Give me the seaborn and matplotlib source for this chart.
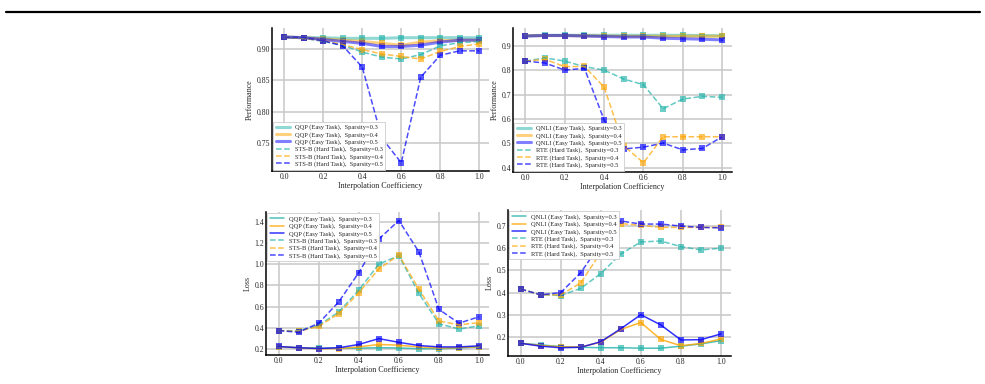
import matplotlib
matplotlib.use("Agg")
import matplotlib.pyplot as plt
import numpy as np
import pandas as pd
import seaborn as sns
from matplotlib.lines import Line2D

sns.set_theme(style="whitegrid")
plt.rcParams['font.family'] = ['Liberation Serif', 'DejaVu Serif']

coef = [0.0, 0.1, 0.2, 0.3, 0.4, 0.5, 0.6, 0.7, 0.8, 0.9, 1.0]
sparsity = ["0.3", "0.4", "0.5"]

# performance, QQP / STS-B
qqp_perf = [
    [0.919, 0.918, 0.918, 0.917, 0.917, 0.917, 0.918, 0.918, 0.918, 0.918, 0.918],
    [0.919, 0.918, 0.916, 0.914, 0.912, 0.909, 0.906, 0.911, 0.913, 0.914, 0.914],
    [0.919, 0.918, 0.915, 0.912, 0.909, 0.904, 0.904, 0.906, 0.911, 0.914, 0.914],
]
stsb_perf = [
    [0.919, 0.917, 0.912, 0.906, 0.895, 0.887, 0.884, 0.891, 0.905, 0.910, 0.912],
    [0.919, 0.917, 0.913, 0.907, 0.899, 0.892, 0.888, 0.884, 0.896, 0.904, 0.908],
    [0.919, 0.918, 0.913, 0.905, 0.871, 0.758, 0.718, 0.855, 0.890, 0.897, 0.897],
]
# performance, QNLI / RTE
qnli_perf = [
    [0.942, 0.944, 0.944, 0.944, 0.944, 0.944, 0.944, 0.944, 0.944, 0.943, 0.942],
    [0.942, 0.943, 0.943, 0.942, 0.941, 0.940, 0.940, 0.940, 0.940, 0.940, 0.940],
    [0.941, 0.943, 0.943, 0.941, 0.939, 0.937, 0.937, 0.932, 0.930, 0.928, 0.925],
]
rte_perf = [
    [0.838, 0.851, 0.838, 0.815, 0.801, 0.764, 0.741, 0.642, 0.682, 0.693, 0.689],
    [0.838, 0.845, 0.815, 0.816, 0.731, 0.490, 0.420, 0.527, 0.527, 0.527, 0.527],
    [0.838, 0.830, 0.801, 0.808, 0.596, 0.477, 0.484, 0.501, 0.473, 0.479, 0.527],
]
# loss, QQP / STS-B
qqp_loss = [
    [0.225, 0.215, 0.210, 0.210, 0.210, 0.215, 0.212, 0.205, 0.205, 0.212, 0.222],
    [0.225, 0.213, 0.205, 0.207, 0.222, 0.245, 0.238, 0.222, 0.212, 0.215, 0.225],
    [0.226, 0.214, 0.207, 0.214, 0.245, 0.300, 0.265, 0.235, 0.222, 0.222, 0.232],
]
stsb_loss = [
    [0.375, 0.375, 0.425, 0.550, 0.755, 1.000, 1.080, 0.725, 0.440, 0.390, 0.420],
    [0.375, 0.370, 0.415, 0.535, 0.730, 0.955, 1.085, 0.765, 0.465, 0.430, 0.450],
    [0.375, 0.360, 0.445, 0.645, 0.920, 1.235, 1.410, 1.115, 0.575, 0.445, 0.505],
]
# loss, QNLI / RTE
qnli_loss = [
    [0.173, 0.166, 0.158, 0.155, 0.153, 0.153, 0.151, 0.151, 0.160, 0.170, 0.185],
    [0.173, 0.163, 0.157, 0.156, 0.178, 0.235, 0.266, 0.190, 0.162, 0.172, 0.192],
    [0.173, 0.160, 0.153, 0.155, 0.180, 0.238, 0.301, 0.255, 0.188, 0.189, 0.215],
]
rte_loss = [
    [0.416, 0.391, 0.387, 0.419, 0.485, 0.573, 0.627, 0.631, 0.606, 0.591, 0.599],
    [0.416, 0.390, 0.390, 0.443, 0.580, 0.709, 0.702, 0.692, 0.692, 0.692, 0.692],
    [0.416, 0.390, 0.400, 0.489, 0.620, 0.721, 0.707, 0.707, 0.698, 0.692, 0.690],
]

colors = ["lightseagreen", "orange", "blue"]

fig = plt.figure(figsize=(9.85, 3.84), dpi=100)


def panel(rect, easy, hard, easy_name, hard_name, ylabel, ylim, yticks, yfmt,
          loc, solid_lw, solid_alpha):
    ax = fig.add_axes(rect)
    for i, s in enumerate(sparsity):
        lab = f"{easy_name} (Easy Task),  Sparsity={s}"
        sns.lineplot(x=coef, y=easy[i], ax=ax, color=colors[i], lw=solid_lw,
                     alpha=solid_alpha, label=lab)
        sns.scatterplot(x=coef, y=easy[i], ax=ax, color=colors[i], marker='s',
                        s=15, alpha=0.65, linewidth=0, legend=False)
    for i, s in enumerate(sparsity):
        lab = f"{hard_name} (Hard Task),  Sparsity={s}"
        sns.lineplot(x=coef, y=hard[i], ax=ax, color=colors[i], lw=1.1,
                     alpha=0.7, linestyle='--', label=lab)
        sns.scatterplot(x=coef, y=hard[i], ax=ax, color=colors[i], marker='s',
                        s=15, alpha=0.65, linewidth=0, legend=False)
    ax.set_xlim(-0.063, 1.05)
    ax.set_ylim(*ylim)
    ax.set_xticks([0.0, 0.2, 0.4, 0.6, 0.8, 1.0])
    ax.set_xticklabels([f"{t:.1f}" for t in [0.0, 0.2, 0.4, 0.6, 0.8, 1.0]])
    ax.set_yticks(yticks)
    ax.set_yticklabels([yfmt.format(t) for t in yticks])
    ax.tick_params(labelsize=5.6, pad=1.5, length=0)
    ax.set_xlabel("Interpolation Coefficiency", fontsize=5.8, labelpad=1)
    ax.set_ylabel(ylabel, fontsize=5.8, labelpad=2)
    ax.grid(True, color="#c8c8c8", lw=1.1)
    for side in ["top", "right"]:
        ax.spines[side].set_visible(False)
    for side in ["left", "bottom"]:
        ax.spines[side].set_visible(True)
        ax.spines[side].set_color("black")
        ax.spines[side].set_linewidth(1.1)
    leg = ax.legend(loc=loc, fontsize=4.7, labelspacing=0.22, handlelength=2.1,
                    borderpad=0.4, borderaxespad=0.2, framealpha=1,
                    fancybox=False)
    leg.get_frame().set_edgecolor("#cccccc")
    leg.get_frame().set_linewidth(0.6)
    return ax


panel([272 / 985, 1 - 171 / 384, 217 / 985, 143 / 384], qqp_perf, stsb_perf,
      "QQP", "STS-B", "Performance", (0.705, 0.9335),
      [0.75, 0.80, 0.85, 0.90], "{:.2f}", "lower left", 2.2, 0.5)
panel([513 / 985, 1 - 172 / 384, 219 / 985, 144 / 384], qnli_perf, rte_perf,
      "QNLI", "RTE", "Performance", (0.382, 0.974),
      [0.4, 0.5, 0.6, 0.7, 0.8, 0.9], "{:.1f}", "lower left", 2.2, 0.5)
panel([266 / 985, 1 - 355 / 384, 223 / 985, 143 / 384], qqp_loss, stsb_loss,
      "QQP", "STS-B", "Loss", (0.146, 1.49),
      [0.2, 0.4, 0.6, 0.8, 1.0, 1.2, 1.4], "{:.1f}", "upper left", 1.1, 0.8)
panel([508 / 985, 1 - 356 / 384, 223 / 985, 146 / 384], qnli_loss, rte_loss,
      "QNLI", "RTE", "Loss", (0.116, 0.77),
      [0.2, 0.3, 0.4, 0.5, 0.6, 0.7], "{:.1f}", "upper left", 1.1, 0.8)

# page rule above the figure
fig.add_artist(Line2D([6 / 985, 980 / 985], [1 - 12 / 384, 1 - 12 / 384],
                      color="black", lw=1.6, transform=fig.transFigure))

fig.savefig("out.png", dpi=100)
